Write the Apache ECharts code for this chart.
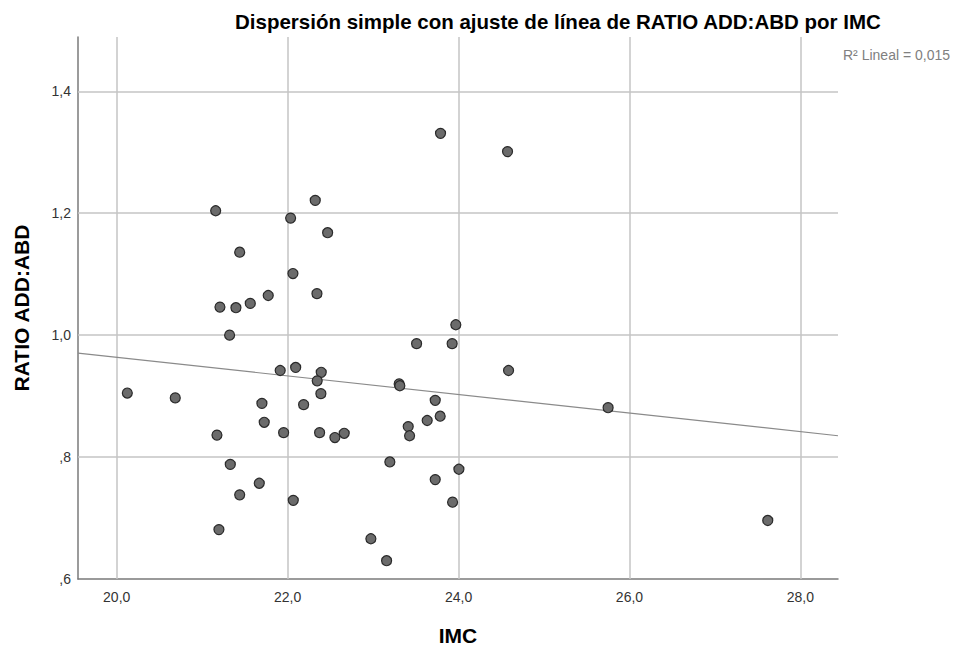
<!DOCTYPE html>
<html>
<head>
<meta charset="utf-8">
<script src="https://cdn.jsdelivr.net/npm/echarts@6/dist/echarts.min.js"></script>
<style>
  html, body { margin: 0; padding: 0; background: #fff; }
  #main { width: 957px; height: 651px; }
</style>
</head>
<body>
<div id="main"></div>
<script>
// IMC (x) and RATIO ADD:ABD (y)
const imc = [
  21.158, 22.323, 22.035, 22.468, 21.439, 22.062, 22.343, 21.773, 21.563, 21.208,
  21.395, 21.321, 21.913, 22.094, 22.393, 20.124, 20.685, 22.346, 22.389, 21.699,
  22.187, 21.726, 21.173, 21.953, 22.374, 22.553, 22.662, 21.329, 21.668, 21.439,
  22.066, 21.196, 23.789, 24.573, 23.968, 23.509, 23.925, 24.585, 23.305, 23.313,
  23.727, 23.633, 23.785, 23.411, 23.427, 23.196, 24.004, 23.727, 23.930, 22.974,
  23.158, 25.750, 27.618
];
const ratio = [
  1.204, 1.221, 1.192, 1.168, 1.136, 1.101, 1.068, 1.065, 1.052, 1.046,
  1.045, 1.000, 0.942, 0.947, 0.939, 0.905, 0.897, 0.925, 0.904, 0.888,
  0.886, 0.857, 0.836, 0.840, 0.840, 0.832, 0.839, 0.788, 0.757, 0.738,
  0.729, 0.681, 1.331, 1.301, 1.017, 0.986, 0.986, 0.942, 0.920, 0.917,
  0.893, 0.860, 0.867, 0.850, 0.835, 0.792, 0.780, 0.763, 0.726, 0.666,
  0.630, 0.881, 0.696
];
// fitted line end points (as drawn)
const fitX = [19.547, 28.44];
const fitY = [0.9705, 0.835];
// ticks
const xTicks = [20, 22, 24, 26, 28];
const yTicks = [0.6, 0.8, 1.0, 1.2, 1.4];

const points = imc.map((v, i) => [v, ratio[i]]);
const fitLine = fitX.map((v, i) => [v, fitY[i]]);

const fmt = (v) => v.toFixed(1).replace('.', ',');
const fmtY = (v) => v.toFixed(1).replace('.', ',').replace(/^0/, '');

const gridLines = [];
xTicks.forEach((v) => gridLines.push({ xAxis: v }));
yTicks.forEach((v) => { if (v > 0.6) gridLines.push({ yAxis: v }); });

const myChart = echarts.init(document.getElementById('main'), null, { renderer: 'svg' });

const option = {
  animation: false,
  backgroundColor: '#ffffff',
  title: [
    {
      text: 'Dispersión simple con ajuste de línea de RATIO ADD:ABD por IMC',
      left: 230,
      top: 6,
      textStyle: { fontFamily: 'Liberation Sans, Arial', fontWeight: 'bold', fontSize: 20.5, color: '#000' }
    },
    {
      text: 'R² Lineal = 0,015',
      left: 838,
      top: 43,
      textStyle: { fontFamily: 'Liberation Sans, Arial', fontWeight: 'normal', fontSize: 14, color: '#808080' }
    }
  ],
  grid: { left: 78, right: 119, top: 37, bottom: 72 },
  xAxis: {
    type: 'value',
    min: 19.547,
    max: 28.44,
    name: 'IMC',
    nameLocation: 'middle',
    nameGap: 46,
    nameTextStyle: { fontFamily: 'Liberation Sans, Arial', fontWeight: 'bold', fontSize: 21, color: '#000' },
    axisLine: { show: true, lineStyle: { color: '#7a7a7a', width: 1.5 } },
    axisTick: { show: false },
    splitLine: { show: false },
    axisLabel: {
      customValues: xTicks,
      formatter: fmt,
      fontFamily: 'Liberation Sans, Arial',
      fontSize: 14,
      color: '#333',
      margin: 11
    }
  },
  yAxis: {
    type: 'value',
    min: 0.6,
    max: 1.489,
    name: 'RATIO ADD:ABD',
    nameLocation: 'middle',
    nameGap: 46,
    nameTextStyle: { fontFamily: 'Liberation Sans, Arial', fontWeight: 'bold', fontSize: 21, color: '#000' },
    axisLine: { show: true, lineStyle: { color: '#7a7a7a', width: 1.5 } },
    axisTick: { show: false },
    splitLine: { show: false },
    axisLabel: {
      customValues: yTicks,
      formatter: fmtY,
      fontFamily: 'Liberation Sans, Arial',
      fontSize: 14,
      color: '#333',
      margin: 7
    }
  },
  series: [
    {
      type: 'line',
      data: fitLine,
      showSymbol: false,
      symbol: 'none',
      z: 3,
      lineStyle: { color: '#8a8a8a', width: 1.2 },
      markLine: {
        silent: true,
        symbol: 'none',
        label: { show: false },
        lineStyle: { color: '#c4c4c4', width: 1.5, type: 'solid' },
        data: gridLines,
        z: 1
      }
    },
    {
      type: 'scatter',
      data: points,
      symbol: 'circle',
      symbolSize: 10,
      z: 5,
      itemStyle: { color: '#6b6b6b', borderColor: '#2a2a2a', borderWidth: 1.2, opacity: 1 }
    }
  ]
};

myChart.setOption(option);
</script>
</body>
</html>
